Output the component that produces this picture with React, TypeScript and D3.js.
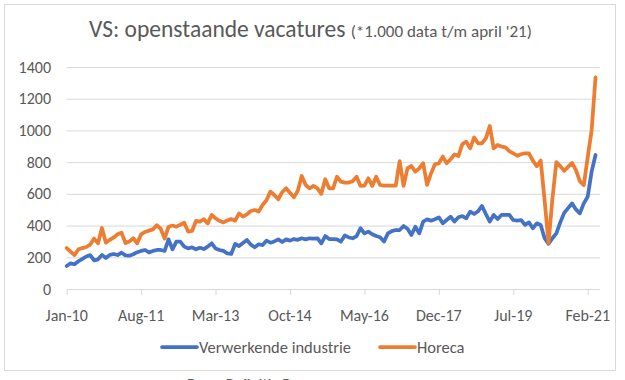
import React from "react";
import * as d3 from "d3";

// Monthly data, Jan-2010 .. Apr-2021 (x1.000)
const industrie: number[] = [
  145, 162, 156, 175, 190, 205, 214, 180, 187, 215,
  195, 215, 221, 214, 229, 212, 210, 219, 232, 240,
  246, 231, 240, 246, 246, 240, 313, 250, 299, 299,
  267, 256, 263, 250, 260, 252, 267, 288, 256, 246,
  240, 225, 221, 284, 271, 290, 309, 280, 263, 282,
  277, 305, 292, 300, 313, 296, 313, 305, 315, 310,
  320, 313, 320, 318, 320, 288, 334, 315, 315, 313,
  299, 338, 325, 320, 334, 383, 351, 362, 345, 334,
  326, 299, 351, 365, 372, 372, 397, 380, 341, 393,
  351, 425, 439, 431, 440, 452, 414, 435, 456, 425,
  452, 460, 446, 488, 473, 490, 524, 473, 425, 467,
  441, 467, 467, 467, 435, 431, 435, 404, 420, 383,
  414, 404, 320, 285, 320, 351, 420, 480, 510, 540,
  502, 477, 540, 582, 740, 845,
];

const horeca: number[] = [
  258, 235, 214, 250, 258, 265, 280, 318, 288, 385,
  292, 310, 325, 345, 355, 290, 300, 320, 288, 345,
  360, 368, 376, 402, 380, 318, 393, 400, 393, 405,
  418, 362, 366, 430, 425, 440, 414, 467, 446, 430,
  420, 432, 441, 431, 477, 456, 470, 492, 498, 488,
  530, 560, 614, 593, 566, 610, 635, 607, 578, 620,
  713, 656, 635, 650, 635, 600, 692, 635, 635, 708,
  677, 671, 671, 680, 708, 650, 652, 698, 650, 708,
  656, 652, 652, 652, 652, 807, 650, 761, 776, 740,
  761, 793, 656, 729, 786, 793, 835, 793, 818, 849,
  839, 914, 929, 887, 956, 919, 919, 950, 1028, 887,
  908, 898, 893, 870, 856, 840, 850, 856, 856, 810,
  775, 810, 560, 290, 570, 800, 775, 745, 770, 795,
  750, 680, 655, 830, 1000, 1335,
];

const xTickLabels: string[] = ["Jan-10", "Aug-11", "Mar-13", "Oct-14", "May-16", "Dec-17", "Jul-19", "Feb-21"];
const xTickMonths: number[] = [0, 19, 38, 57, 76, 95, 114, 133];
const yTicks: number[] = [0, 200, 400, 600, 800, 1000, 1200, 1400];
const seriesNames: string[] = ["Verwerkende industrie", "Horeca"];
const seriesColors: string[] = ["#4472C4", "#ED7D31"];

const FONT = "Carlito, Lato, 'Liberation Sans', sans-serif";
const TEXT = "#595959";
const GRID = "#D9D9D9";

export default function App() {
  const x = d3.scaleLinear().domain([0, 133]).range([66.7, 587.7]);
  const y = d3.scaleLinear().domain([0, 1400]).range([289, 67]);
  const plotRight = 600;

  const line = d3
    .line<number>()
    .x((_, i) => x(i))
    .y((d) => y(d))
    .curve(d3.curveLinear);

  const series = [industrie, horeca];

  return (
    <svg
      width={625}
      height={380}
      style={{ position: "absolute", left: 0, top: 0, background: "#fff" }}
      fontFamily={FONT}
    >
      <rect x={4.5} y={4.5} width={611} height={366} fill="#fff" stroke={GRID} strokeWidth={1} />

      <text x={89} y={37} fill={TEXT}>
        <tspan fontSize={23.5}>VS: openstaande vacatures </tspan>
        <tspan fontSize={17}>(*1.000 data t/m april '21)</tspan>
      </text>

      {yTicks.map((t) => (
        <g key={t}>
          <line x1={x(0)} x2={plotRight} y1={y(t) + 0.5} y2={y(t) + 0.5} stroke={GRID} strokeWidth={1} />
          <text x={51} y={y(t) + 5.5} textAnchor="end" fontSize={16} fill={TEXT}>
            {t}
          </text>
        </g>
      ))}

      {xTickMonths.map((m, i) => (
        <g key={m}>
          <line x1={x(m) + 0.5} x2={x(m) + 0.5} y1={289} y2={295} stroke={GRID} strokeWidth={1} />
          <text x={x(m)} y={321} textAnchor="middle" fontSize={16} fill={TEXT}>
            {xTickLabels[i]}
          </text>
        </g>
      ))}

      {series.map((s, i) => (
        <path
          key={i}
          d={line(s) || ""}
          fill="none"
          stroke={seriesColors[i]}
          strokeWidth={3.75}
          strokeLinejoin="round"
          strokeLinecap="round"
        />
      ))}

      <g>
        <line x1={162} x2={197} y1={347} y2={347} stroke={seriesColors[0]} strokeWidth={3.75} strokeLinecap="round" />
        <text x={199} y={352.5} fontSize={16.5} fill={TEXT}>
          {seriesNames[0]}
        </text>
        <line x1={380} x2={415} y1={347} y2={347} stroke={seriesColors[1]} strokeWidth={3.75} strokeLinecap="round" />
        <text x={417} y={352.5} fontSize={16.5} fill={TEXT}>
          {seriesNames[1]}
        </text>
      </g>

      <text x={187} y={390} fontSize={16} fill={TEXT}>
        Bron: Refinitiv D
      </text>
    </svg>
  );
}
